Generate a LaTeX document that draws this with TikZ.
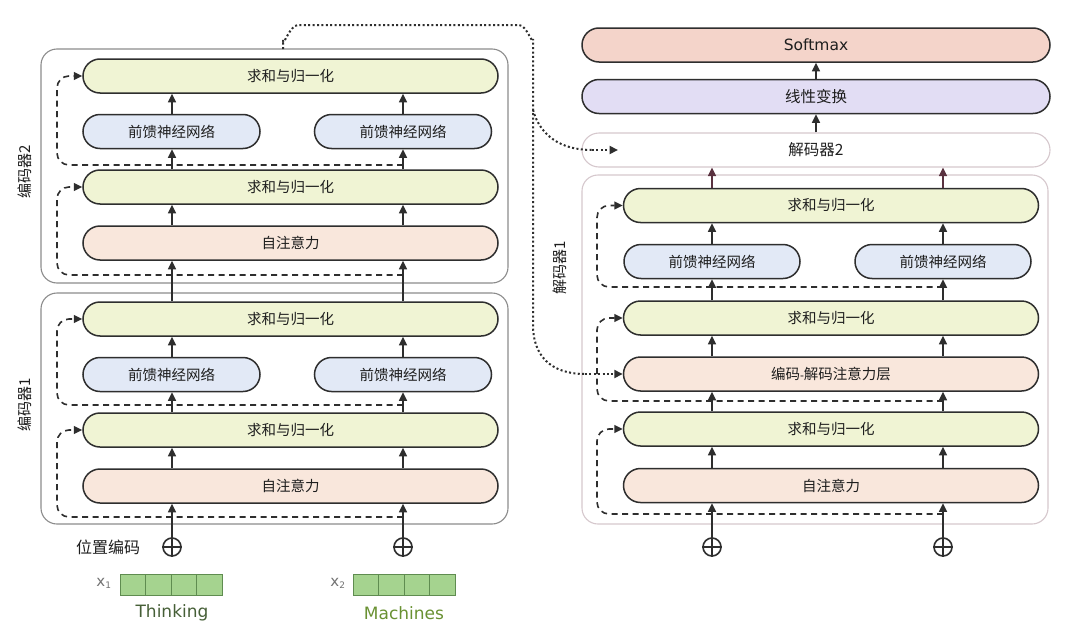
\documentclass[tikz,border=0pt]{standalone}
\usepackage{fontspec}
\newfontfamily\cjk{Noto Sans CJK SC}
\newfontfamily\dvs{DejaVu Sans}
\usetikzlibrary{arrows.meta,calc}
\definecolor{linec}{RGB}{46,46,46}
\definecolor{txtc}{RGB}{30,30,30}
\definecolor{addc}{RGB}{240,244,212}
\definecolor{ffnc}{RGB}{226,233,246}
\definecolor{attc}{RGB}{249,231,220}
\definecolor{smc}{RGB}{244,212,202}
\definecolor{linc}{RGB}{226,221,244}
\definecolor{boxc}{RGB}{140,140,140}
\definecolor{decboxc}{RGB}{214,200,205}
\definecolor{cellc}{RGB}{165,211,143}
\definecolor{cellb}{RGB}{95,140,80}
\definecolor{thinkc}{RGB}{70,95,55}
\definecolor{machc}{RGB}{105,145,50}
\definecolor{upc}{RGB}{90,50,64}
\tikzset{
  bar/.style={draw=linec, line width=1.5pt, rounded corners=17pt, minimum height=34pt,
    inner sep=0pt, text=txtc, font=\cjk\fontsize{14.5}{16}\selectfont},
  wide/.style={bar, minimum width=415pt},
  full/.style={bar, minimum width=468pt},
  ffn/.style={bar, minimum width=177pt, fill=ffnc},
  addn/.style={wide, fill=addc},
  attn/.style={wide, fill=attc},
  outerbox/.style={draw=boxc, line width=1.1pt, rounded corners=16pt, inner sep=0pt},
  arr/.style={-{Triangle[width=8pt,length=8.5pt]}, line width=1.6pt, draw=linec},
  resid/.style={arr, dash pattern=on 6pt off 4.5pt, rounded corners=12pt},
  dotline/.style={draw=linec, line width=2pt, dash pattern=on 2pt off 2.4pt},
  plusc/.style={draw=linec, line width=1.6pt, circle, minimum size=18pt, inner sep=0pt},
  sidelabel/.style={rotate=90, text=txtc, font=\cjk\fontsize{15}{17}\selectfont},
  cellst/.style={fill=cellc, draw=cellb, line width=0.8pt},
}
\begin{document}
\begin{tikzpicture}[x=1pt,y=-1pt]
\useasboundingbox (0,0) rectangle (1080,632);
\fill[white] (0,0) rectangle (1080,632);

% ---------- outer boxes ----------
\node[outerbox, minimum width=467pt, minimum height=234pt] (enc2) at (274.5,166) {};
\node[outerbox, minimum width=467pt, minimum height=231pt] (enc1) at (274.5,408.5) {};
\node[outerbox, draw=decboxc, minimum width=466pt, minimum height=349pt] (dec1) at (815,349.5) {};

\node[sidelabel] (l2) at (25,172) {编码器2};
\node[sidelabel] (l1) at (25,405) {编码器1};
\node[sidelabel] (l3) at (560,268) {解码器1};

% ---------- column coordinates ----------
\coordinate (c1) at (172,0);
\coordinate (c2) at (403,0);
\coordinate (c3) at (712,0);
\coordinate (c4) at (943,0);

% ---------- encoder 2 ----------
\node[addn] (e2an2) at (290.5,76) {求和与归一化};
\node[ffn] (e2f1) at (171.5,131.5) {前馈神经网络};
\node[ffn] (e2f2) at (403,131.5) {前馈神经网络};
\node[addn] (e2an1) at (290.5,187) {求和与归一化};
\node[attn] (e2sa) at (290.5,243) {自注意力};

% ---------- encoder 1 ----------
\node[addn] (e1an2) at (290.5,319) {求和与归一化};
\node[ffn] (e1f1) at (171.5,374.5) {前馈神经网络};
\node[ffn] (e1f2) at (403,374.5) {前馈神经网络};
\node[addn] (e1an1) at (290.5,430) {求和与归一化};
\node[attn] (e1sa) at (290.5,486) {自注意力};

% ---------- decoder ----------
\node[full, fill=smc, font=\dvs\fontsize{15.5}{17}\selectfont] (sm) at (816,45) {Softmax};
\node[full, fill=linc, font=\cjk\fontsize{15.5}{17}\selectfont] (lin) at (816,96.5) {线性变换};
\node[full, draw=decboxc, line width=1.1pt, fill=white, font=\cjk\fontsize{15.5}{17}\selectfont] (dec2) at (816,150) {解码器2};

\node[addn] (d3) at (831,205.5) {求和与归一化};
\node[ffn, minimum width=176pt] (df1) at (712,261.5) {前馈神经网络};
\node[ffn, minimum width=176pt] (df2) at (943,261.5) {前馈神经网络};
\node[addn] (d2) at (831,318) {求和与归一化};
\node[attn] (ded) at (831,374) {编码{\dvs\fontsize{11}{12}\selectfont -}解码注意力层};
\node[addn] (d1) at (831,429) {求和与归一化};
\node[attn] (dsa) at (831,485.5) {自注意力};

% ---------- plus nodes ----------
\node[plusc] (p1) at (172,547) {};
\node[plusc] (p2) at (403,547) {};
\node[plusc] (p3) at (712,547) {};
\node[plusc] (p4) at (943,547) {};
\foreach \p in {p1,p2,p3,p4}{
  \draw[linec, line width=1.5pt] (\p.north) -- (\p.south);
  \draw[linec, line width=1.5pt] (\p.west) -- (\p.east);
}
\node[text=txtc, font=\cjk\fontsize{16}{18}\selectfont] (pos) at (108,547) {位置编码};

% ---------- input vectors ----------
\foreach \i in {0,1,2,3}{
  \draw[cellst] (120+25.5*\i,574) rectangle ++(25.5,21);
  \draw[cellst] (353+25.5*\i,574) rectangle ++(25.5,21);
}
\node[text=gray!90!black, font=\dvs\fontsize{15}{17}\selectfont] (x1) at (104,583) {x\textsubscript{\fontsize{9}{10}\selectfont 1}};
\node[text=gray!90!black, font=\dvs\fontsize{15}{17}\selectfont] (x2) at (338,583) {x\textsubscript{\fontsize{9}{10}\selectfont 2}};
\node[text=thinkc, font=\dvs\fontsize{17}{19}\selectfont] (w1) at (172,613) {Thinking};
\node[text=machc, font=\dvs\fontsize{17}{19}\selectfont] (w2) at (404,613) {Machines};

% ---------- residual (dashed) connectors ----------
\coordinate (r2b) at (403,275);
\coordinate (r2a) at (403,165);
\coordinate (r1b) at (403,517);
\coordinate (r1a) at (403,405);
\coordinate (rdc) at (943,514);
\coordinate (rdb) at (943,401);
\coordinate (rda) at (943,287);
\draw[resid] (r2b) -- (57,275) -- (57,187) -- (e2an1.west);
\draw[resid] (r2a) -- (57,165) -- (57,76) -- (e2an2.west);
\draw[resid] (r1b) -- (57,517) -- (57,430) -- (e1an1.west);
\draw[resid] (r1a) -- (57,405) -- (57,319) -- (e1an2.west);
\draw[resid] (rdc) -- (597,514) -- (597,429) -- (d1.west);
\draw[resid] (rdb) -- (597,401) -- (597,318) -- (d2.west);
\draw[resid] (rda) -- (597,287) -- (597,205.5) -- (d3.west);

% ---------- dotted encoder->decoder connector ----------
\coordinate (dstart) at (283,49);
\coordinate (d2in) at (618,150);
\draw[dotline] (dstart) -- (283,40) to[out=-90,in=180] (298,25) -- (519,25)
  to[out=0,in=-90] (533,39) -- (533,325) .. controls (533,355) and (550,374) .. (585,374);
\draw[dotline, -{Triangle[width=8pt,length=8.5pt]}] (585,374) -- (ded.west);
\draw[dotline] (533,110) .. controls (540,135) and (560,150) .. (592,150);
\draw[dotline, -{Triangle[width=8pt,length=8.5pt]}] (592,150) -- (d2in);

% ---------- encoder vertical arrows ----------
\foreach \c/\pp/\fa/\fb in {c1/p1/e1f1/e2f1, c2/p2/e1f2/e2f2}{
  \draw[arr] (\pp.north) -- (\pp.north |- e1sa.south);
  \draw[arr] (e1sa.north -| \c) -- (e1an1.south -| \c);
  \draw[arr] (e1an1.north -| \c) -- (\fa.south -| \c);
  \draw[arr] (\fa.north -| \c) -- (e1an2.south -| \c);
  \draw[arr] (e1an2.north -| \c) -- (e2sa.south -| \c);
  \draw[arr] (e2sa.north -| \c) -- (e2an1.south -| \c);
  \draw[arr] (e2an1.north -| \c) -- (\fb.south -| \c);
  \draw[arr] (\fb.north -| \c) -- (e2an2.south -| \c);
}

% ---------- decoder vertical arrows ----------
\foreach \c/\pp/\ff in {c3/p3/df1, c4/p4/df2}{
  \draw[arr] (\pp.north) -- (\pp.north |- dsa.south);
  \draw[arr] (dsa.north -| \c) -- (d1.south -| \c);
  \draw[arr] (d1.north -| \c) -- (ded.south -| \c);
  \draw[arr] (ded.north -| \c) -- (d2.south -| \c);
  \draw[arr] (d2.north -| \c) -- (\ff.south -| \c);
  \draw[arr] (\ff.north -| \c) -- (d3.south -| \c);
  \draw[arr, draw=upc] (d3.north -| \c) -- (dec2.south -| \c);
}
\draw[arr] (dec2.north) -- (lin.south);
\draw[arr] (lin.north) -- (sm.south);
\end{tikzpicture}
\end{document}
